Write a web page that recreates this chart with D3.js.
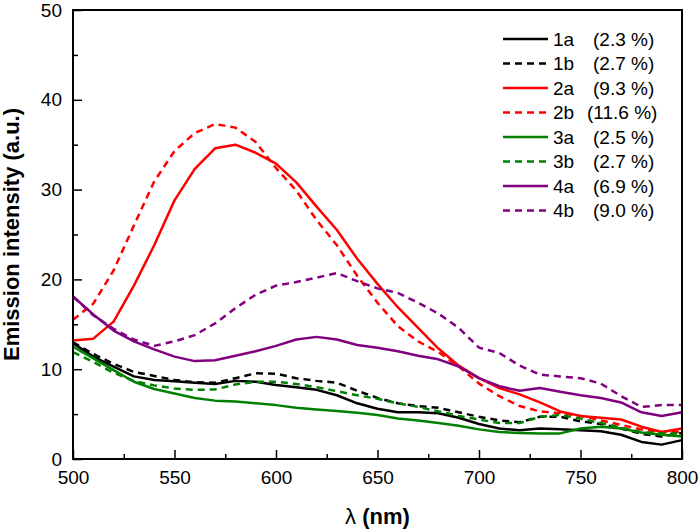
<!DOCTYPE html>
<html><head><meta charset="utf-8">
<script src="https://cdn.jsdelivr.net/npm/d3@7/dist/d3.min.js"></script>
<style>
body{margin:0;background:#fff;}
text{font-family:"Liberation Sans",Arial,sans-serif;fill:#000;}
</style></head>
<body>
<svg id="chart" width="700" height="530"></svg>
<script>
const wavelengths = [500,510,520,530,540,550,560,570,580,590,600,610,620,630,640,650,660,670,680,690,700,710,720,730,740,750,760,770,780,790,800];
const s1a = [12.9,11.4,10.3,9.2,8.8,8.65,8.5,8.35,8.7,8.6,8.25,8.0,7.7,7.1,6.2,5.6,5.2,5.2,5.1,4.6,3.9,3.4,3.2,3.4,3.3,3.2,3.1,2.7,1.9,1.6,2.1];
const s1b = [13.0,11.7,10.6,9.7,9.25,8.8,8.55,8.5,9.0,9.55,9.5,9.0,8.7,8.5,7.6,6.8,6.2,5.9,5.7,5.2,4.7,4.3,4.1,4.7,4.7,4.2,3.9,3.4,2.8,2.5,2.9];
const s2a = [13.2,13.4,15.3,19.3,23.8,28.8,32.3,34.6,35.0,34.1,32.9,30.8,28.1,25.5,22.3,19.5,16.9,14.6,12.3,10.4,9.0,7.9,7.2,6.3,5.3,4.8,4.6,4.4,3.6,3.0,3.4];
const s2b = [15.5,17.3,21.0,26.0,30.9,34.3,36.3,37.3,36.9,35.3,32.4,29.9,26.6,23.8,20.4,17.4,14.8,13.1,11.9,10.3,8.4,7.0,5.9,5.3,5.1,4.8,4.3,3.8,3.3,3.0,3.0];
const s3a = [12.5,11.2,9.9,8.6,7.8,7.3,6.8,6.5,6.4,6.2,6.0,5.7,5.5,5.35,5.15,4.9,4.5,4.3,4.0,3.7,3.3,3.0,2.9,2.85,2.85,3.4,3.6,3.4,2.95,2.7,2.5];
const s3b = [11.9,10.8,9.6,8.7,8.2,7.85,7.7,7.75,8.3,8.6,8.6,8.35,8.0,7.55,7.1,6.7,6.2,5.8,5.3,4.8,4.4,4.0,4.0,4.7,4.9,4.5,4.0,3.5,3.0,2.85,2.85];
const s4a = [18.1,16.1,14.3,13.1,12.2,11.4,10.9,11.0,11.5,12.0,12.6,13.3,13.6,13.3,12.7,12.4,12.0,11.5,11.1,10.3,9.0,8.1,7.6,7.9,7.5,7.1,6.8,6.3,5.2,4.8,5.2];
const s4b = [18.1,16.0,14.5,13.3,12.6,13.1,13.8,15.1,16.8,18.3,19.3,19.7,20.2,20.7,19.8,19.0,18.5,17.4,16.2,14.6,12.4,11.8,10.4,9.4,9.2,9.0,8.4,7.0,5.8,6.0,6.0];
const seriesNames = ["1a","1b","2a","2b","3a","3b","4a","4b"];
const seriesPercent = ["(2.3 %)","(2.7 %)","(9.3 %)","(11.6 %)","(2.5 %)","(2.7 %)","(6.9 %)","(9.0 %)"];
const seriesValues = [s1a,s1b,s2a,s2b,s3a,s3b,s4a,s4b];
const seriesColors = ["#000000","#000000","#ff0000","#ff0000","#008000","#008000","#800080","#800080"];
const seriesDashed = [false,true,false,true,false,true,false,true];
const xMajorTicks = [500,550,600,650,700,750,800];
const xMinorTicks = [525,575,625,675,725,775];
const yMajorTicks = [0,10,20,30,40,50];
const yMinorTicks = [5,15,25,35,45];

const svg = d3.select("#chart");
const L = 73, R = 682, T = 10, B = 459;
const x = d3.scaleLinear().domain([500,800]).range([L,R]);
const y = d3.scaleLinear().domain([0,50]).range([B,T]);

const line = d3.line().x((d,i)=>x(wavelengths[i])).y(d=>y(d));
const plot = svg.append("g");
seriesValues.forEach((vals,k)=>{
  plot.append("path").datum(vals)
    .attr("d", line)
    .attr("fill","none")
    .attr("stroke", seriesColors[k])
    .attr("stroke-width", 2.5)
    .attr("stroke-linejoin","round")
    .attr("stroke-dasharray", seriesDashed[k] ? "7,5" : null);
});

// box
svg.append("rect").attr("x",L).attr("y",T).attr("width",R-L).attr("height",B-T)
  .attr("fill","none").attr("stroke","#000").attr("stroke-width",2);

function styleAxis(g){
  g.select(".domain").remove();
  g.selectAll(".tick line").attr("stroke","#000").attr("stroke-width",1.5);
  g.selectAll("text").attr("font-size",19).attr("fill","#000")
    .attr("font-family","Liberation Sans, Arial, sans-serif");
}
svg.append("g").attr("transform",`translate(0,${B})`)
  .call(d3.axisBottom(x).tickValues(xMajorTicks).tickSize(-9).tickPadding(12).tickFormat(d3.format("d")))
  .call(styleAxis);
svg.append("g").attr("transform",`translate(0,${B})`)
  .call(d3.axisBottom(x).tickValues(xMinorTicks).tickSize(-5).tickFormat(""))
  .call(styleAxis);
svg.append("g").attr("transform",`translate(${L},0)`)
  .call(d3.axisLeft(y).tickValues(yMajorTicks).tickSize(-9).tickPadding(11).tickFormat(d3.format("d")))
  .call(styleAxis);
svg.append("g").attr("transform",`translate(${L},0)`)
  .call(d3.axisLeft(y).tickValues(yMinorTicks).tickSize(-5).tickFormat(""))
  .call(styleAxis);

// axis titles
const xt = svg.append("text").attr("x",(L+R)/2).attr("y",524).attr("text-anchor","middle")
  .attr("font-size",22);
xt.append("tspan").attr("font-weight","normal").text("λ ");
xt.append("tspan").attr("font-weight","bold").text("(nm)");
svg.append("text").attr("transform",`translate(19,${(T+B)/2}) rotate(-90)`)
  .attr("text-anchor","middle").attr("font-size",22).attr("font-weight","bold")
  .text("Emission intensity (a.u.)");

// legend
const lg = svg.append("g");
seriesNames.forEach((nm,k)=>{
  const yy = 39 + k*24.5;
  lg.append("line").attr("x1",503).attr("x2",548).attr("y1",yy).attr("y2",yy)
    .attr("stroke",seriesColors[k]).attr("stroke-width",2.5)
    .attr("stroke-dasharray", seriesDashed[k] ? "7,5" : null);
  lg.append("text").attr("x",553).attr("y",yy).attr("dy","0.35em").attr("font-size",19).text(nm);
  lg.append("text").attr("x", seriesPercent[k].length>7 ? 587 : 593).attr("y",yy).attr("dy","0.35em")
    .attr("font-size",19).text(seriesPercent[k]);
});
</script>
</body></html>
